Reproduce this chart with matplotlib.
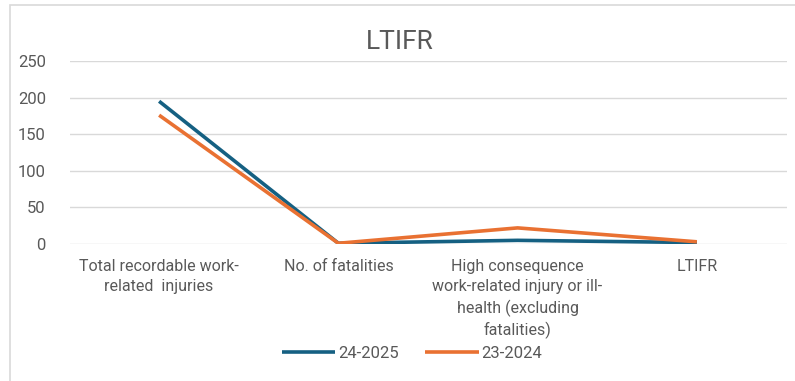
import matplotlib
matplotlib.use('Agg')
import matplotlib.pyplot as plt
from matplotlib.patches import Rectangle

plt.rcParams['font.family'] = ['Roboto', 'DejaVu Sans']

categories = ['Total recordable work-\nrelated  injuries',
              'No. of fatalities',
              'High consequence\nwork-related injury or ill-\nhealth (excluding\nfatalities)',
              'LTIFR']
fy_2425 = [195, 1, 5, 2]
fy_2324 = [176, 1, 22, 3]
y_ticks = [0, 50, 100, 150, 200, 250]

text_gray = '#595959'
grid_gray = '#d9d9d9'

fig = plt.figure(figsize=(7.95, 3.81), dpi=100)
fig.patch.set_facecolor('white')
# light chart frame
fig.patches.append(Rectangle((10 / 795, -0.01), 1.0, 1 - 5 / 381 + 0.01,
                             transform=fig.transFigure, fill=False,
                             edgecolor=grid_gray, linewidth=1.2))

ax = fig.add_axes([69.5 / 795, 1 - 244 / 381, 717 / 795, (244 - 61) / 381])
x = range(len(categories))
ax.plot(x, fy_2425, color='#156082', linewidth=2.6, label='24-2025',
        solid_capstyle='butt', zorder=3)
ax.plot(x, fy_2324, color='#E97132', linewidth=2.6, label='23-2024',
        solid_capstyle='butt', zorder=3)

ax.set_xlim(-0.5, 3.5)
ax.set_ylim(0, 250)
ax.set_yticks(y_ticks)
ax.set_xticks(list(x))
ax.set_xticklabels(categories, linespacing=1.4)
ax.yaxis.grid(True, color=grid_gray, linewidth=1.0)
ax.set_axisbelow(True)
for s in ax.spines.values():
    s.set_visible(False)
ax.tick_params(axis='both', length=0, colors=text_gray)
ax.tick_params(axis='y', pad=17, labelsize=12)
ax.tick_params(axis='x', pad=11, labelsize=11.5)
for lab in ax.get_xticklabels():
    lab.set_verticalalignment('top')

fig.text(400 / 795, 1 - 42 / 381, 'LTIFR', ha='center', va='center',
         fontsize=19, color=text_gray)

fig.legend(loc='center', bbox_to_anchor=(412 / 795, 1 - 353 / 381),
           ncol=2, frameon=False, fontsize=12, handlelength=3.2,
           handletextpad=0.15, columnspacing=1.6, labelcolor=text_gray)

fig.savefig('out.png', dpi=100, facecolor='white')
